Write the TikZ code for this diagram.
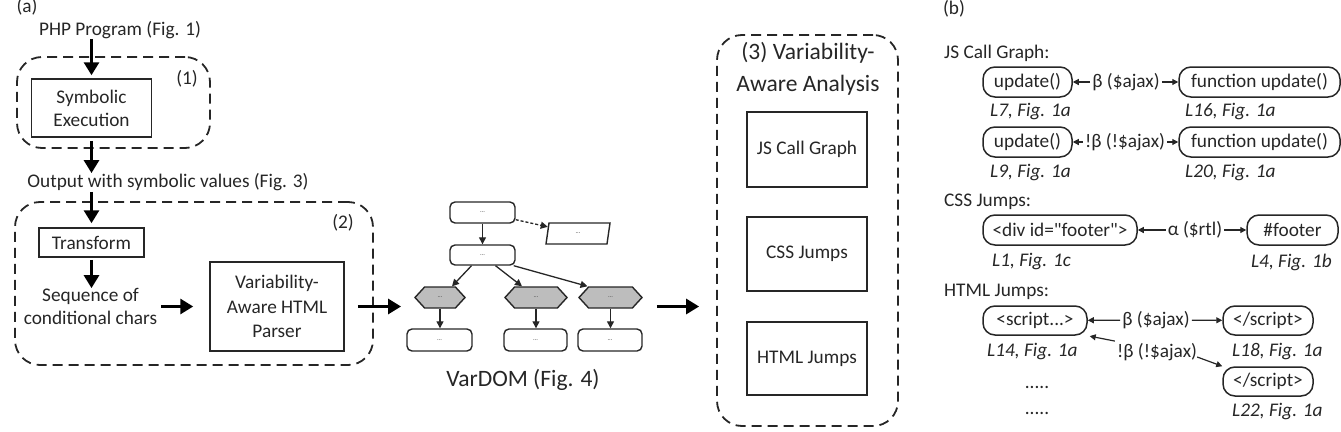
\documentclass[tikz,border=0pt]{standalone}
\usepackage{fontspec}
\setmainfont{Carlito}
\usetikzlibrary{arrows.meta,shapes.geometric,shapes.symbols,calc}
\definecolor{ink}{HTML}{262626}
\definecolor{hexgray}{HTML}{BDBDBD}
\newcommand\fsA{\fontsize{19.3}{23}\selectfont}
\newcommand\fsB{\fontsize{23.5}{32}\selectfont}
\newcommand\fsT{\fontsize{6.5}{7}\selectfont}
\begin{document}
\begin{tikzpicture}[x=1pt,y=-1pt,
  every node/.style={text=ink, font=\fsA, inner sep=0pt},
  dbox/.style={draw=ink, line width=1.8pt, dash pattern=on 10pt off 6pt, rounded corners=25pt},
  sqbox/.style={draw=ink, line width=1.5pt, align=center},
  rbox/.style={draw=ink, line width=1.5pt, rounded corners=12pt, minimum height=30pt},
  bigarrow/.style={line width=3pt, draw=black, -{Triangle[length=13pt,width=15pt]}},
  vnode/.style={draw=ink, line width=1.4pt, rounded corners=5pt, font=\fsT, text=ink!85},
  hexs/.style={draw=ink, line width=1.4pt, fill=hexgray, signal, signal to=east and west, signal pointer angle=95, minimum height=21pt, font=\fsT, text=ink!85},
  varr/.style={line width=1.3pt, draw=ink, -{Triangle[length=7pt,width=7pt]}},
  sarr/.style={line width=1.2pt, draw=ink, -{Triangle[length=6pt,width=6pt]}},
  it/.style={font=\fsA\itshape}]
\useasboundingbox (0,0) rectangle (1341,431);

% ---------- (a) ----------
\node (a) at (27,7) {(a)};
\node (php) at (120,30) {PHP Program (Fig. 1)};
\node[dbox, minimum width=193pt, minimum height=91pt] (g1) at (113.5,102.5) {};
\node (n1) at (187,79) {(1)};
\node[sqbox, minimum width=120pt, minimum height=58pt] (sym) at (91.5,108) {Symbolic\\Execution};
\node (out) at (168,182) {Output with symbolic values (Fig. 3)};
\node[dbox, minimum width=358pt, minimum height=163pt] (g2) at (194,283.5) {};
\node (n2) at (343,223) {(2)};
\node[sqbox, minimum width=105pt, minimum height=29pt] (trans) at (91.5,242.5) {Transform};
\node[align=center] (seq) at (90.5,306.5) {Sequence of\\conditional chars};
\node[sqbox, minimum width=134pt, minimum height=89pt, font=\fontsize{19.3}{24.5}\selectfont] (parser) at (277,306.5) {Variability-\\Aware HTML\\Parser};

\draw[bigarrow, shorten >=3pt] (php.south -| sym.north) -- (sym.north);
\draw[bigarrow, shorten <=3pt] (sym.south) -- (sym.south |- out.north);
\draw[bigarrow, shorten >=4pt, shorten <=1pt] (out.south -| trans.north) -- (trans.north);
\draw[bigarrow, shorten <=2pt] (trans.south) -- (trans.south |- seq.north);
\draw[bigarrow, shorten <=4pt, shorten >=16pt] (seq.east |- parser.west) -- (parser.west);

% ---------- VarDOM ----------
\node[vnode, minimum width=65pt, minimum height=21pt] (v1) at (482.5,212.5) {...};
\node[draw=ink, line width=1.4pt, trapezium, trapezium left angle=72, trapezium right angle=108, trapezium stretches=true, minimum width=64pt, minimum height=21pt, font=\fsT, text=ink!85] (vp) at (578,233.5) {...};
\node[vnode, minimum width=65pt, minimum height=20pt] (v2) at (482.5,255) {...};
\node[hexs, minimum width=50pt] (h1) at (440,297.5) {...};
\node[hexs, minimum width=62pt] (h2) at (536,297.5) {...};
\node[hexs, minimum width=63pt] (h3) at (610.5,297.5) {...};
\node[vnode, minimum width=65pt, minimum height=22pt] (c1) at (439.5,340) {...};
\node[vnode, minimum width=63pt, minimum height=22pt] (c2) at (535.5,340) {...};
\node[vnode, minimum width=64pt, minimum height=22pt] (c3) at (610,340) {...};
\node[font=\fontsize{23.5}{28}\selectfont] (vd) at (523,380) {VarDOM (Fig. 4)};

\draw[varr] (v1) -- (v2);
\draw[varr, dash pattern=on 3pt off 2pt] ($(v1.south east)+(0,-4)$) -- (vp);
\draw[varr] ($(v2.south)+(-11,0)$) -- ($(h1.north)+(12,0)$);
\draw[varr] ($(v2.south)+(13,0)$) -- ($(h2.north)+(-14,0)$);
\draw[varr] ($(v2.south east)+(-2,0)$) -- ($(h3.north)+(-23,0)$);
\draw[varr] (h1.south) -- (h1.south |- c1.north);
\draw[varr] (h2.south) -- (h2.south |- c2.north);
\draw[varr] (h3.south) -- (h3.south |- c3.north);

\draw[bigarrow, shorten <=13pt, shorten >=13pt] (parser.east) -- (parser.east -| h1.west);

% ---------- (3) ----------
\node[dbox, minimum width=181pt, minimum height=391pt] (g3) at (807.5,230.5) {};
\node[align=center, font=\fsB] (t3) at (808,69) {(3) Variability-\\Aware Analysis};
\node[sqbox, minimum width=120pt, minimum height=75pt] (js) at (807,149.5) {JS Call Graph};
\node[sqbox, minimum width=120pt, minimum height=74pt] (css) at (807,254) {CSS Jumps};
\node[sqbox, minimum width=120pt, minimum height=73pt] (html) at (807,358.5) {HTML Jumps};

\draw[bigarrow, shorten <=14pt, shorten >=17pt] (h3.east |- parser.east) -- (g3.west |- parser.east);

% ---------- (b) ----------
\node (b) at (954,9) {(b)};
\node[anchor=west] (jsh) at (944,53) {JS Call Graph:};
\node[rbox, minimum width=89pt] (u1) at (1027.5,82) {update()};
\node[rbox, minimum width=161pt] (f1) at (1259.5,82) {function update()};
\node[inner sep=2pt] (e1) at (1126,82) {β (\$ajax)};
\draw[sarr] (e1) -- (u1);
\draw[sarr] (e1) -- (f1);
\node[it, anchor=west] (l7) at (990,112) {L7, Fig. 1a};
\node[it, anchor=west] (l16) at (1185,112) {L16, Fig. 1a};

\node[rbox, minimum width=89pt] (u2) at (1027.5,142) {update()};
\node[rbox, minimum width=161pt] (f2) at (1259.5,142) {function update()};
\node[inner sep=2pt] (e2) at (1125,142) {!β (!\$ajax)};
\draw[sarr] (e2) -- (u2);
\draw[sarr] (e2) -- (f2);
\node[it, anchor=west] (l9) at (990,173) {L9, Fig. 1a};
\node[it, anchor=west] (l20) at (1185,173) {L20, Fig. 1a};

\node[anchor=west] (cssh) at (944,202) {CSS Jumps:};
\node[rbox, minimum width=154pt] (dv) at (1060,230) {<div id=\textquotedbl footer\textquotedbl>};
\node[rbox, minimum width=91pt] (ft) at (1292.5,230) {\#footer};
\node[inner sep=2pt] (e3) at (1195,230) {α (\$rtl)};
\draw[sarr] (e3) -- (dv);
\draw[sarr] (e3) -- (ft);
\node[it, anchor=west] (l1) at (992,262) {L1, Fig. 1c};
\node[it, anchor=east] (l4) at (1332,262) {L4, Fig. 1b};

\node[anchor=west] (htmlh) at (944,292) {HTML Jumps:};
\node[rbox, minimum width=104pt, minimum height=29pt] (scr) at (1035,320.5) {<script...>};
\node[rbox, minimum width=90pt, minimum height=29pt] (es1) at (1268,320.5) {</script>};
\node[inner sep=2pt] (e5) at (1156,320) {β (\$ajax)};
\draw[sarr] (e5) -- (scr);
\draw[sarr] (e5) -- (es1);
\node[it, anchor=west] (l14) at (987,352) {L14, Fig. 1a};
\node[inner sep=2pt] (e6) at (1157,352) {!β (!\$ajax)};
\node[it, anchor=west] (l18) at (1232,352) {L18, Fig. 1a};
\node[rbox, minimum width=90pt, minimum height=29pt] (es2) at (1268,381.5) {</script>};
\draw[sarr, shorten >=2pt] (e6.north west) -- (scr.south east);
\draw[sarr] ($(e6.east)+(-2,5)$) -- (es2.north west);
\node (d1) at (1037,387) {.....};
\node (d2) at (1037,413) {.....};
\node[it, anchor=west] (l22) at (1232,412) {L22, Fig. 1a};
\end{tikzpicture}
\end{document}
